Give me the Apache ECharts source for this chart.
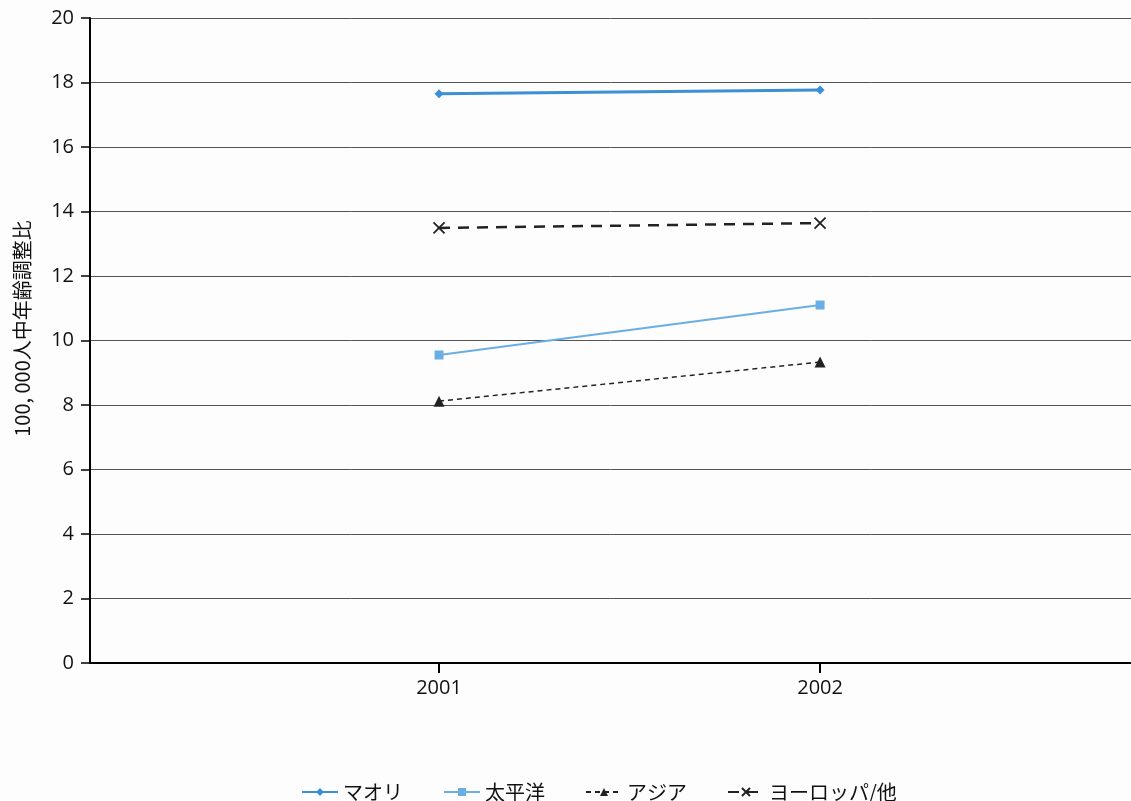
<!DOCTYPE html>
<html>
<head>
<meta charset="utf-8">
<script src="https://cdn.jsdelivr.net/npm/echarts@6/dist/echarts.min.js"></script>
<style>
html,body{margin:0;padding:0;background:#fdfdfd;}
#chart{width:1131px;height:801px;}
</style>
</head>
<body>
<div id="chart"></div>
<script>
const years = [2001, 2002];
const maori = [17.65, 17.77];
const pacific = [9.55, 11.1];
const asian = [8.12, 9.33];
const european = [13.49, 13.64];
const seriesNames = ['マオリ', '太平洋', 'アジア', 'ヨーロッパ/他'];
const yTicks = [0, 2, 4, 6, 8, 10, 12, 14, 16, 18, 20];

const font = '"Noto Sans CJK JP", "Noto Sans", sans-serif';
const numFont = '"Open Sans", "Noto Sans", sans-serif';
const pair = arr => years.map((y, i) => [y, arr[i]]);
const xPath = 'path://M0,0L10,10M10,0L0,10';

const chart = echarts.init(document.getElementById('chart'));
chart.setOption({
  backgroundColor: '#fdfdfd',
  animation: false,
  textStyle: { fontFamily: font },
  grid: { left: 90, right: 0, top: 18, bottom: 138, containLabel: false },
  legend: {
    top: 777,
    left: 296,
    itemWidth: 36,
    itemHeight: 10,
    itemGap: 40,
    textStyle: { fontSize: 20, color: '#111', fontFamily: font },
    data: seriesNames
  },
  xAxis: {
    type: 'value',
    min: 2000.084,
    max: 2002.816,
    axisLine: { show: true, onZero: false, lineStyle: { color: '#000', width: 2 } },
    axisTick: { show: true, customValues: years, length: 10, lineStyle: { color: '#000', width: 2 } },
    axisLabel: { customValues: years, fontSize: 20, color: '#111', margin: 15, fontFamily: numFont, formatter: v => String(v) },
    splitLine: { show: false }
  },
  yAxis: {
    type: 'value',
    min: 0,
    max: 20,
    interval: 2,
    name: '100, 000人中年齢調整比',
    nameLocation: 'middle',
    nameRotate: 90,
    nameGap: 58,
    nameTextStyle: { fontSize: 20, color: '#111', fontFamily: font, padding: [0, 0, 0, 24] },
    axisLine: { show: true, lineStyle: { color: '#000', width: 2 } },
    axisTick: { show: true, length: 9, lineStyle: { color: '#000', width: 1.5 } },
    axisLabel: { fontSize: 20, color: '#111', margin: 16, fontFamily: numFont },
    splitLine: { show: true, lineStyle: { color: '#555', width: 1 } }
  },
  series: [
    {
      name: seriesNames[0], type: 'line', data: pair(maori),
      symbol: 'diamond', symbolSize: 9,
      lineStyle: { color: '#3d8fd6', width: 3 },
      itemStyle: { color: '#3d8fd6' }
    },
    {
      name: seriesNames[1], type: 'line', data: pair(pacific),
      symbol: 'rect', symbolSize: 9,
      lineStyle: { color: '#6aaee4', width: 2 },
      itemStyle: { color: '#6aaee4' }
    },
    {
      name: seriesNames[2], type: 'line', data: pair(asian),
      symbol: 'triangle', symbolSize: 11,
      lineStyle: { color: '#222', width: 1.5, type: [5, 4] },
      itemStyle: { color: '#222' }
    },
    {
      name: seriesNames[3], type: 'line', data: pair(european),
      symbol: xPath, symbolSize: 11,
      lineStyle: { color: '#222', width: 2.5, type: [11, 8] },
      itemStyle: { color: 'rgba(0,0,0,0)', borderColor: '#222', borderWidth: 1.8 }
    }
  ]
});
</script>
</body>
</html>
